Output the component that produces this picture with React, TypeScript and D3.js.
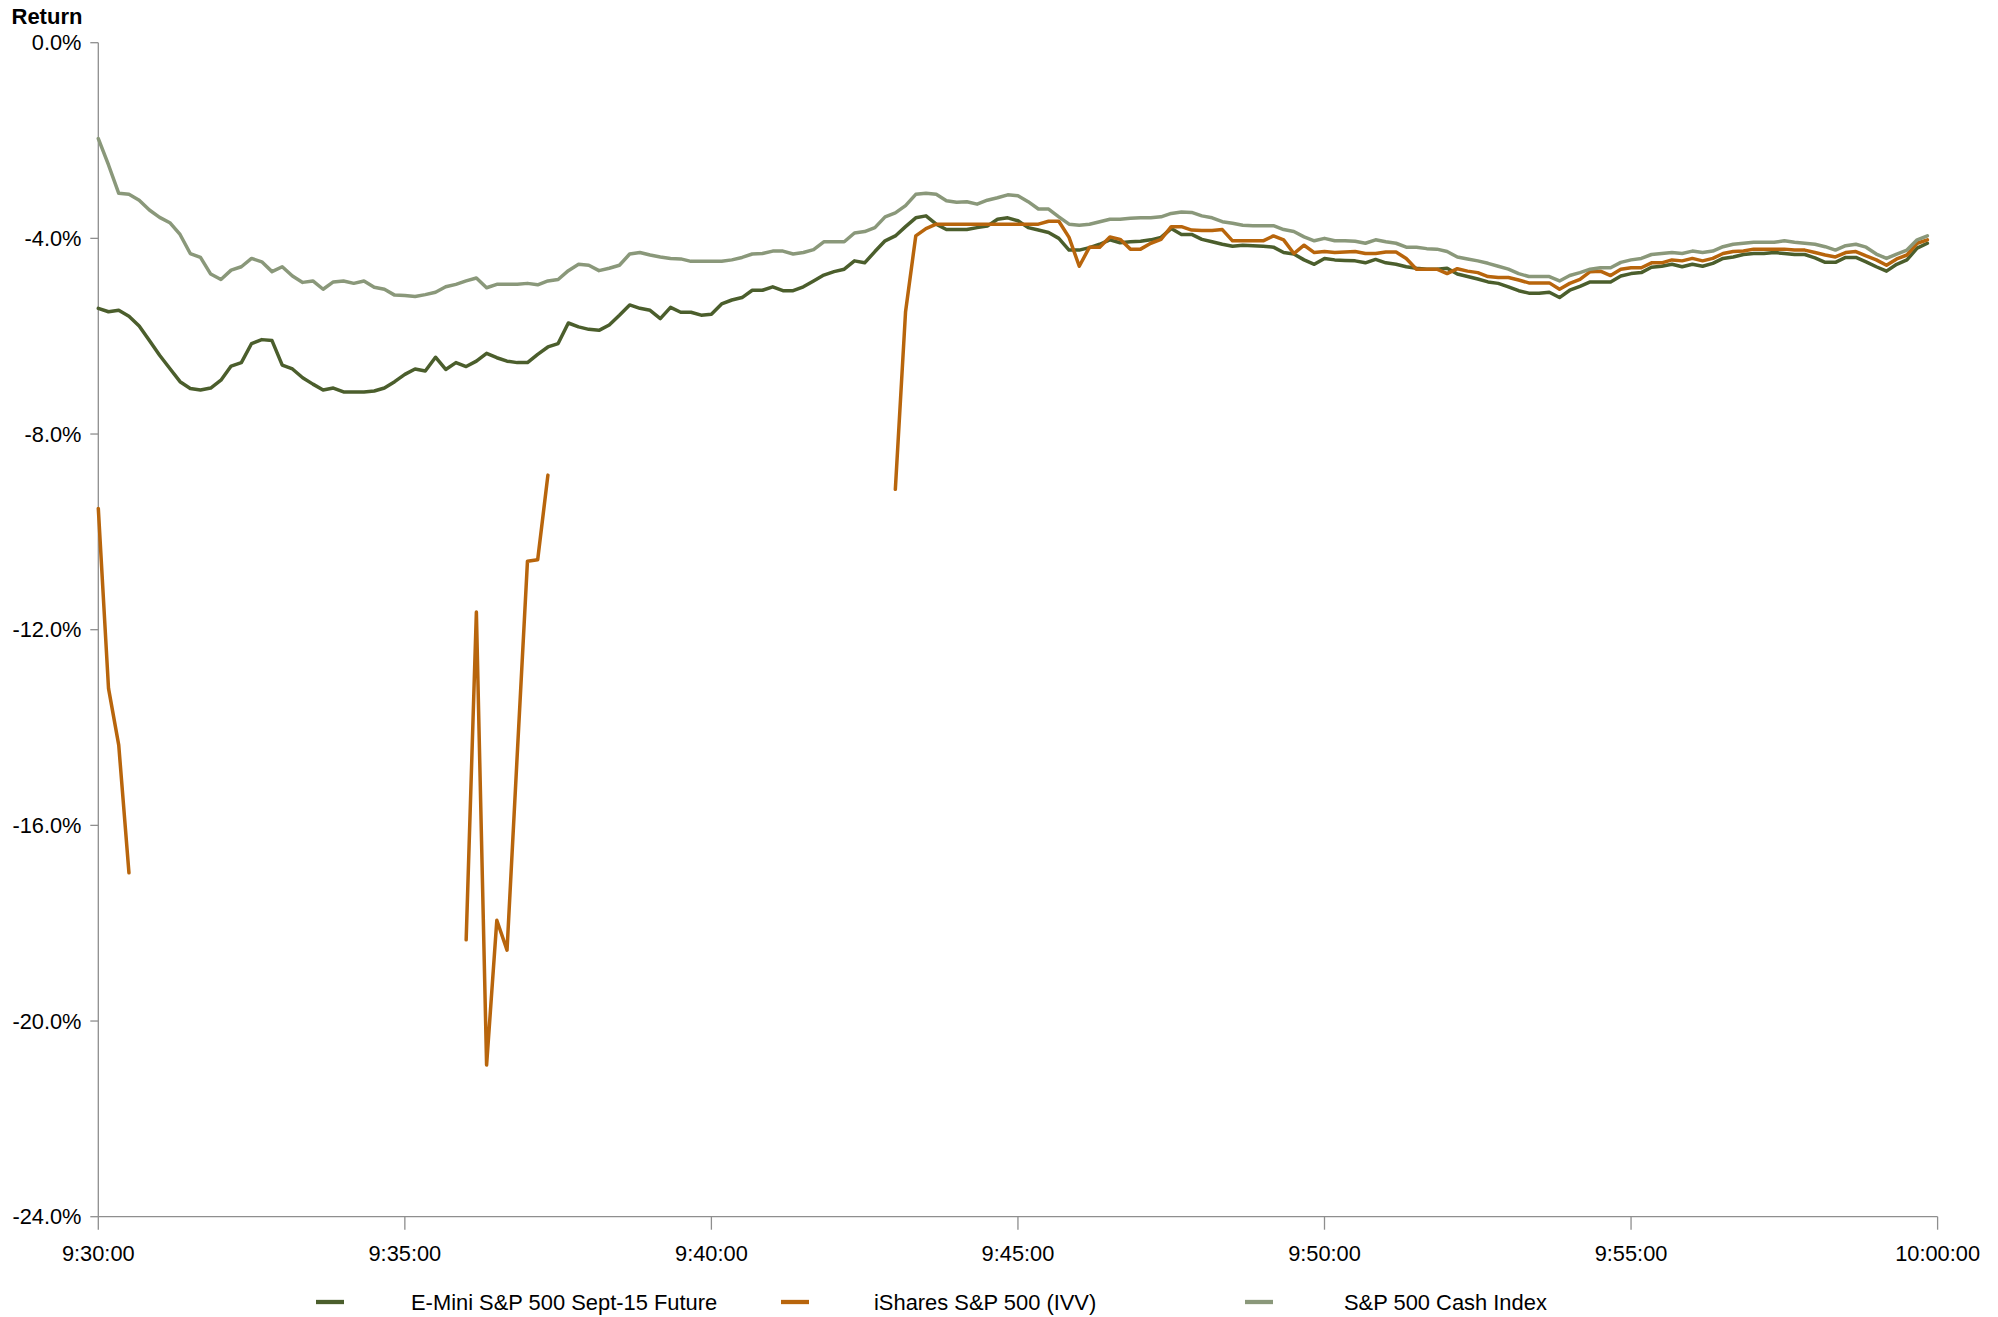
import React from 'react';
import * as d3 from 'd3';

const N = null;

const xTickLabels = ['9:30:00', '9:35:00', '9:40:00', '9:45:00', '9:50:00', '9:55:00', '10:00:00'];
const xTickSeconds = [0, 300, 600, 900, 1200, 1500, 1800];
const yTicks = [0, -4, -8, -12, -16, -20, -24];
const seriesNames = ['E-Mini S&P 500 Sept-15 Future', 'iShares S&P 500 (IVV)', 'S&P 500 Cash Index'];
const seriesColors = ['#4b5e2c', '#b8650c', '#8a987a'];
const stepSeconds = 10;

const futures: number[] = [
  -5.43, -5.50, -5.47, -5.59, -5.79, -6.09, -6.39, -6.66, -6.93, -7.07,
  -7.10, -7.06, -6.90, -6.61, -6.54, -6.15, -6.07, -6.09, -6.59, -6.67,
  -6.85, -6.98, -7.10, -7.06, -7.14, -7.14, -7.14, -7.12, -7.06, -6.93,
  -6.78, -6.67, -6.71, -6.43, -6.68, -6.54, -6.62, -6.51, -6.35, -6.44,
  -6.51, -6.54, -6.54, -6.37, -6.22, -6.15, -5.73, -5.81, -5.86, -5.88,
  -5.77, -5.57, -5.36, -5.43, -5.47, -5.64, -5.41, -5.51, -5.51, -5.57,
  -5.55, -5.34, -5.26, -5.21, -5.06, -5.06, -4.99, -5.07, -5.07, -4.99,
  -4.87, -4.75, -4.68, -4.63, -4.46, -4.50, -4.27, -4.05, -3.95, -3.76,
  -3.58, -3.54, -3.71, -3.82, -3.82, -3.82, -3.78, -3.75, -3.61, -3.58,
  -3.64, -3.78, -3.83, -3.88, -4.00, -4.24, -4.24, -4.19, -4.12, -4.03,
  -4.09, -4.07, -4.06, -4.03, -3.98, -3.80, -3.92, -3.92, -4.02, -4.07,
  -4.12, -4.16, -4.14, -4.15, -4.16, -4.18, -4.29, -4.32, -4.44, -4.53,
  -4.41, -4.44, -4.45, -4.46, -4.50, -4.43, -4.50, -4.53, -4.58, -4.61,
  -4.63, -4.63, -4.61, -4.73, -4.78, -4.83, -4.89, -4.92, -4.99, -5.07,
  -5.12, -5.12, -5.10, -5.21, -5.06, -4.98, -4.89, -4.89, -4.89, -4.77,
  -4.72, -4.70, -4.59, -4.57, -4.53, -4.58, -4.53, -4.57, -4.51, -4.41,
  -4.38, -4.33, -4.31, -4.31, -4.29, -4.31, -4.33, -4.33, -4.40, -4.49,
  -4.49, -4.39, -4.39, -4.48, -4.58, -4.67, -4.53, -4.44, -4.20, -4.10,
];

const ivv: (number | null)[] = [
  -9.52, -13.20, -14.36, -16.97, N, N, N, N, N, N,
  N, N, N, N, N, N, N, N, N, N,
  N, N, N, N, N, N, N, N, N, N,
  N, N, N, N, N, N, -18.34, -11.64, -20.90, -17.94,
  -18.55, -14.55, -10.60, -10.57, -8.84, N, N, N, N, N,
  N, N, N, N, N, N, N, N, N, N,
  N, N, N, N, N, N, N, N, N, N,
  N, N, N, N, N, N, N, N, -9.13, -5.50,
  -3.95, -3.80, -3.71, -3.71, -3.71, -3.71, -3.71, -3.71, -3.71, -3.71,
  -3.71, -3.71, -3.71, -3.65, -3.65, -3.98, -4.57, -4.18, -4.18, -3.97,
  -4.02, -4.22, -4.22, -4.10, -4.02, -3.76, -3.76, -3.83, -3.84, -3.84,
  -3.82, -4.05, -4.05, -4.05, -4.05, -3.95, -4.03, -4.31, -4.14, -4.29,
  -4.27, -4.29, -4.28, -4.27, -4.31, -4.31, -4.28, -4.28, -4.41, -4.63,
  -4.63, -4.63, -4.72, -4.62, -4.67, -4.70, -4.78, -4.80, -4.80, -4.85,
  -4.91, -4.91, -4.91, -5.04, -4.92, -4.84, -4.68, -4.67, -4.76, -4.63,
  -4.60, -4.60, -4.50, -4.50, -4.44, -4.46, -4.41, -4.46, -4.41, -4.31,
  -4.27, -4.26, -4.22, -4.22, -4.22, -4.22, -4.24, -4.24, -4.29, -4.34,
  -4.38, -4.29, -4.27, -4.36, -4.44, -4.55, -4.42, -4.34, -4.10, -4.03,
];

const cash: number[] = [
  -1.96, -2.50, -3.08, -3.10, -3.22, -3.42, -3.57, -3.68, -3.92, -4.31,
  -4.39, -4.73, -4.84, -4.65, -4.58, -4.41, -4.48, -4.68, -4.58, -4.77,
  -4.90, -4.87, -5.04, -4.89, -4.87, -4.92, -4.87, -5.00, -5.04, -5.16,
  -5.17, -5.19, -5.15, -5.10, -4.99, -4.94, -4.87, -4.81, -5.01, -4.94,
  -4.94, -4.94, -4.92, -4.95, -4.87, -4.84, -4.66, -4.53, -4.55, -4.66,
  -4.61, -4.55, -4.32, -4.29, -4.34, -4.38, -4.41, -4.42, -4.47, -4.47,
  -4.47, -4.47, -4.44, -4.39, -4.32, -4.31, -4.26, -4.26, -4.32, -4.29,
  -4.23, -4.07, -4.07, -4.07, -3.89, -3.86, -3.78, -3.56, -3.48, -3.33,
  -3.10, -3.08, -3.10, -3.23, -3.26, -3.25, -3.30, -3.22, -3.17, -3.11,
  -3.13, -3.25, -3.40, -3.40, -3.56, -3.71, -3.73, -3.71, -3.66, -3.61,
  -3.61, -3.59, -3.58, -3.58, -3.56, -3.49, -3.46, -3.47, -3.54, -3.58,
  -3.66, -3.69, -3.73, -3.74, -3.74, -3.74, -3.82, -3.86, -3.97, -4.05,
  -4.00, -4.05, -4.05, -4.06, -4.10, -4.03, -4.07, -4.10, -4.18, -4.18,
  -4.21, -4.22, -4.27, -4.38, -4.42, -4.46, -4.51, -4.57, -4.63, -4.72,
  -4.78, -4.78, -4.78, -4.87, -4.76, -4.70, -4.63, -4.60, -4.60, -4.49,
  -4.44, -4.41, -4.33, -4.31, -4.29, -4.31, -4.26, -4.29, -4.26, -4.17,
  -4.12, -4.10, -4.08, -4.08, -4.08, -4.05, -4.08, -4.10, -4.12, -4.17,
  -4.24, -4.15, -4.12, -4.18, -4.32, -4.41, -4.32, -4.24, -4.03, -3.95,
];

const W = 1998;
const H = 1317;
const FONT = '"Liberation Sans", Arial, sans-serif';
const AXIS = '#8e8e8e';

export default function App() {
  const x = d3.scaleLinear().domain([0, 1800]).range([98.3, 1937.6]);
  const y = d3.scaleLinear().domain([0, -24]).range([42.7, 1216.7]);
  const line = d3
    .line<number | null>()
    .defined((d) => d != null)
    .x((_, i) => x(i * stepSeconds))
    .y((d) => y(d as number));

  const series = [futures, ivv, cash];
  const legendSwatchX = [316, 781, 1245];
  const legendTextX = [411, 874, 1344];
  const legendY = 1302;

  return (
    <svg
      width={W}
      height={H}
      style={{ position: 'absolute', left: 0, top: 0, background: '#fff' }}
      fontFamily={FONT}
    >
      <rect x={0} y={0} width={W} height={H} fill="#fff" />
      <text x={11.5} y={24} fontSize={22} fontWeight="bold" fill="#000">
        Return
      </text>
      {/* y axis */}
      <line x1={x(0)} x2={x(0)} y1={y(0)} y2={y(-24)} stroke={AXIS} strokeWidth={1.3} />
      {yTicks.map((t) => (
        <g key={t}>
          <line x1={x(0) - 8} x2={x(0)} y1={y(t)} y2={y(t)} stroke={AXIS} strokeWidth={1.3} />
          <text x={81.5} y={y(t)} dy="0.35em" textAnchor="end" fontSize={21.8} fill="#000">
            {t.toFixed(1) + '%'}
          </text>
        </g>
      ))}
      {/* x axis */}
      <line x1={x(0)} x2={x(1800)} y1={y(-24)} y2={y(-24)} stroke={AXIS} strokeWidth={1.3} />
      {xTickSeconds.map((s, i) => (
        <g key={s}>
          <line x1={x(s)} x2={x(s)} y1={y(-24)} y2={y(-24) + 13} stroke={AXIS} strokeWidth={1.3} />
          <text x={x(s)} y={1253} dy="0.35em" textAnchor="middle" fontSize={21.8} fill="#000">
            {xTickLabels[i]}
          </text>
        </g>
      ))}
      {/* series */}
      {series.map((data, k) => (
        <path
          key={k}
          d={line(data) || ''}
          fill="none"
          stroke={seriesColors[k]}
          strokeWidth={3.5}
          strokeLinejoin="round"
          strokeLinecap="round"
        />
      ))}
      {/* legend */}
      {seriesNames.map((name, k) => (
        <g key={name}>
          <line
            x1={legendSwatchX[k]}
            x2={legendSwatchX[k] + 28}
            y1={legendY}
            y2={legendY}
            stroke={seriesColors[k]}
            strokeWidth={4.3}
          />
          <text x={legendTextX[k]} y={legendY} dy="0.35em" fontSize={21.9} fill="#000">
            {name}
          </text>
        </g>
      ))}
    </svg>
  );
}
